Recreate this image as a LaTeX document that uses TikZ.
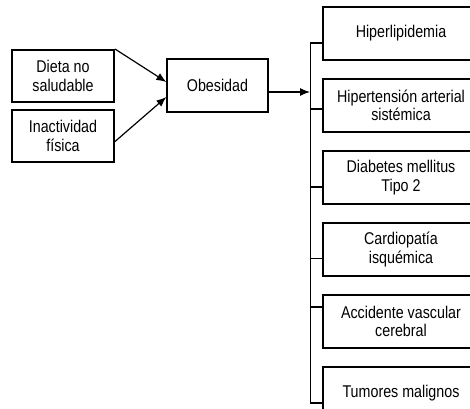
\documentclass[tikz,border=0pt]{standalone}
\usepackage{fontspec}
\setmainfont{Liberation Sans}[FakeStretch=0.84]
\usepackage{tikz}
\usetikzlibrary{calc,arrows.meta,positioning}

\begin{document}
\begin{tikzpicture}[x=1pt,y=-1pt,node distance=17pt]

\tikzset{causebox/.style={draw,line width=2pt,minimum width=102pt,minimum height=52pt,inner sep=2pt,align=center,font=\fontsize{17}{18.5}\selectfont},
mainbox/.style={draw,line width=1.3pt,minimum width=101pt,minimum height=53pt,inner sep=2pt,align=center,font=\fontsize{17}{18.5}\selectfont},
effectbox/.style={draw,line width=2pt,minimum width=156pt,minimum height=53pt,inner sep=2pt,align=center,font=\fontsize{17}{18.5}\selectfont},
link/.style={line width=1.2pt,-{Latex[length=10pt,width=8pt]}},
stub/.style={line width=1.4pt}}

\useasboundingbox (0,0) rectangle (470,408);

% causes
\node[causebox] (dieta) at (63,76) {Dieta no\\saludable};
\node[causebox,below=6pt of dieta] (inactividad) {Inactividad\\f\'isica};
\node[mainbox] (obesidad) at (217.5,85.5) {Obesidad};

% effects
\node[effectbox] (e1) at (401,33.5) {Hiperlipidemia};
\node[effectbox,below=of e1] (e2) {Hipertensi\'on arterial\\sist\'emica};
\node[effectbox,below=of e2] (e3) {Diabetes mellitus\\Tipo 2};
\node[effectbox,below=of e3] (e4) {Cardiopat\'ia\\isqu\'emica};
\node[effectbox,below=of e4] (e5) {Accidente vascular\\cerebral};
\node[effectbox,below=of e5] (e6) {Tumores malignos};

% arrows into obesidad
\draw[link] (dieta.north east) -- ([yshift=3.5pt]obesidad.west);
\draw[link] ([yshift=-5.5pt]inactividad.east) -- ([yshift=-11.5pt]obesidad.west);

% trunk and stubs
\coordinate (trunktop) at ([yshift=-9.5pt,xshift=-12pt]e1.west);
\coordinate (trunkbot) at ([yshift=-9.5pt,xshift=-12pt]e6.west);
\draw[line width=1pt] (trunktop) -- (trunkbot);
\foreach \i/\dy in {1/9.5,2/3.5,3/9.5,4/9,5/-14.5,6/9.5} \draw[stub] ([yshift=-\dy pt]e\i.west) -- ++(-12,0);

\coordinate (obout) at ([yshift=-6.5pt]obesidad.east);
\draw[link] (obout) -- (obout -| trunktop);

\end{tikzpicture}
\end{document}
